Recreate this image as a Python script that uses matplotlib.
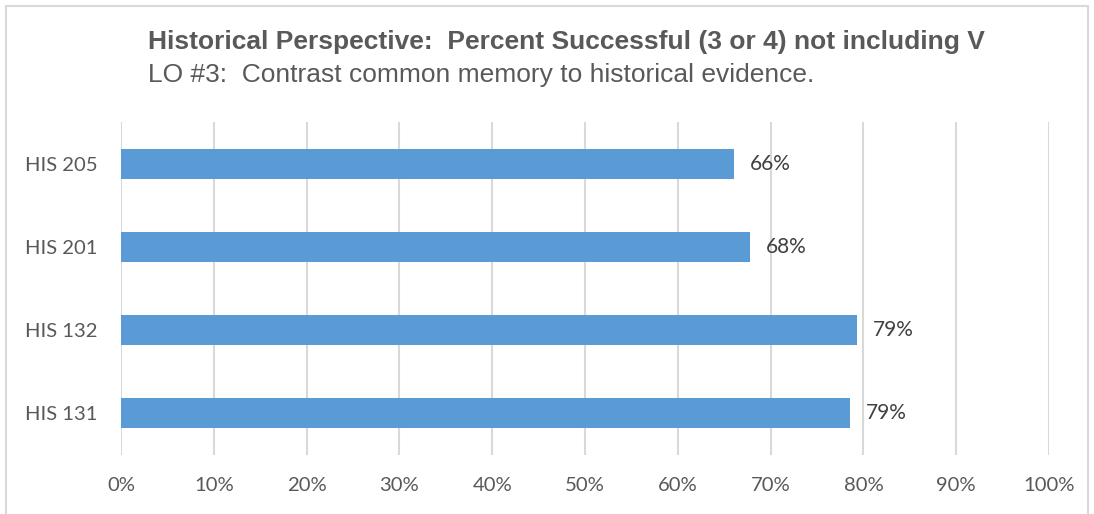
import matplotlib.pyplot as plt
from matplotlib.patches import Rectangle

# data (bottom to top)
courses = ['HIS 131', 'HIS 132', 'HIS 201', 'HIS 205']
pct = [78.6, 79.3, 67.8, 66.1]
ticks = list(range(0, 101, 10))

W, H = 1094, 514
fig = plt.figure(figsize=(W / 100, H / 100), dpi=100)
ax = fig.add_axes([121 / W, 1 - 455 / H, 928 / W, 333 / H])

ax.barh(range(len(courses)), pct, height=0.36, color='#5B9BD5', zorder=3)
for i, v in enumerate(pct):
    ax.text(v + 1.7, i, f'{round(v)}%', va='center', ha='left',
            fontsize=15, color='#404040', family='Lato')

ax.set_xlim(0, 100)
ax.set_ylim(-0.5, len(courses) - 0.5)
ax.set_xticks(ticks)
ax.set_xticklabels([f'{t}%' for t in ticks], fontsize=14.6, color='#595959', family='Lato')
ax.set_yticks(range(len(courses)))
ax.set_yticklabels(courses, fontsize=14.6, color='#595959', family='Lato')
ax.tick_params(axis='x', length=0, pad=16)
ax.tick_params(axis='y', length=0, pad=17)
ax.grid(axis='x', color='#D9D9D9', linewidth=1.5, zorder=0)
for s in ax.spines.values():
    s.set_visible(False)

fig.text(148 / W, 1 - 42 / H, 'Historical Perspective:  Percent Successful (3 or 4) not including V',
         fontsize=19, fontweight='bold', color='#595959', family='Liberation Sans', va='center')
fig.text(148 / W, 1 - 75 / H, 'LO #3:  Contrast common memory to historical evidence.',
         fontsize=19, color='#595959', family='Liberation Sans', va='center')

fig.patches.append(Rectangle((6 / W, -0.05), 1082 / W, 1 - 6 / H + 0.05, transform=fig.transFigure,
                             fill=False, edgecolor='#D9D9D9', linewidth=1.5))

fig.savefig('out.png', dpi=100)
